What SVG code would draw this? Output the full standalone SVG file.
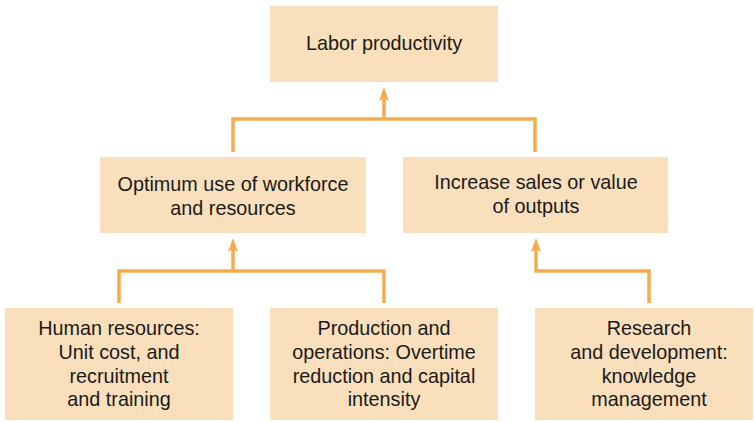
<svg xmlns="http://www.w3.org/2000/svg" width="754" height="422" viewBox="0 0 754 422">
<defs>
<style>
.box{fill:#f9dfbb;}
.t{font-family:"Liberation Sans",Arial,sans-serif;font-size:19.8px;fill:#1a1a1a;text-anchor:middle;}
.c{fill:none;stroke:#f4ad4c;stroke-width:3.5;}
</style>
<marker id="ah" markerWidth="14" markerHeight="12" viewBox="0 0 14 12" refX="6" refY="6" orient="auto" markerUnits="userSpaceOnUse">
<path d="M14 6 L0 1 L3 6 L0 11 Z" fill="#f4ad4c"/>
</marker>
</defs>
<rect width="754" height="422" fill="#ffffff"/>
<g id="connectors">
<path class="c" d="M233 152 V119 H535 V152"/>
<path class="c" d="M384 119 V95" marker-end="url(#ah)"/>
<path class="c" d="M119 303 V271 H384 V303"/>
<path class="c" d="M233 271 V246" marker-end="url(#ah)"/>
<path class="c" d="M649 303 V271 H536 V246" marker-end="url(#ah)"/>
</g>
<g id="labor">
<rect class="box" x="270" y="6" width="228" height="76"/>
<text class="t" x="384" y="50">Labor productivity</text>
</g>
<g id="optimum">
<rect class="box" x="100" y="157" width="266" height="76"/>
<text class="t" x="233" y="191">Optimum use of workforce</text>
<text class="t" x="233" y="215">and resources</text>
</g>
<g id="sales">
<rect class="box" x="403" y="157" width="265" height="76"/>
<text class="t" x="536" y="189">Increase sales or value</text>
<text class="t" x="536" y="213">of outputs</text>
</g>
<g id="hr">
<rect class="box" x="5" y="308" width="228" height="112"/>
<text class="t" x="119" y="335">Human resources:</text>
<text class="t" x="119" y="359">Unit cost, and</text>
<text class="t" x="119" y="383">recruitment</text>
<text class="t" x="119" y="406">and training</text>
</g>
<g id="production">
<rect class="box" x="270" y="308" width="228" height="112"/>
<text class="t" x="384" y="335">Production and</text>
<text class="t" x="384" y="359">operations: Overtime</text>
<text class="t" x="384" y="383">reduction and capital</text>
<text class="t" x="384" y="406">intensity</text>
</g>
<g id="rd">
<rect class="box" x="535" y="308" width="218" height="112"/>
<text class="t" x="649" y="335">Research</text>
<text class="t" x="649" y="359">and development:</text>
<text class="t" x="649" y="383">knowledge</text>
<text class="t" x="649" y="406">management</text>
</g>
</svg>
